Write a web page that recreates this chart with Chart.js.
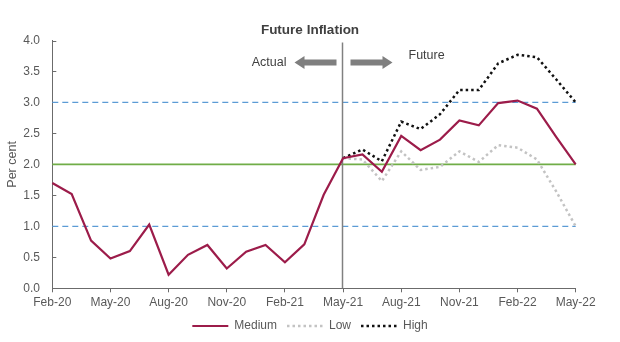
<!DOCTYPE html>
<html>
<head>
<meta charset="utf-8">
<script src="https://cdn.jsdelivr.net/npm/chart.js@4/dist/chart.umd.min.js"></script>
<style>
  html, body { margin: 0; padding: 0; background: #ffffff; }
  #wrap { width: 620px; height: 342px; }
</style>
</head>
<body>
<div id="wrap"><canvas id="chart" width="620" height="342"></canvas></div>
<script>
// Monthly categories, Feb 2020 – May 2022
const months = [
  'Feb-20','Mar-20','Apr-20','May-20','Jun-20','Jul-20','Aug-20','Sep-20','Oct-20','Nov-20','Dec-20','Jan-21',
  'Feb-21','Mar-21','Apr-21','May-21','Jun-21','Jul-21','Aug-21','Sep-21','Oct-21','Nov-21','Dec-21','Jan-22',
  'Feb-22','Mar-22','Apr-22','May-22'
];

// Actual inflation to May-21, then the medium scenario
const medium = [
  1.70, 1.52, 0.77, 0.48, 0.60, 1.03, 0.22, 0.54, 0.70, 0.32, 0.59, 0.70,
  0.42, 0.71, 1.51, 2.10, 2.16, 1.88, 2.46, 2.23, 2.40, 2.71, 2.63, 2.99,
  3.03, 2.90, 2.44, 2.00
];

// Scenario months (from the last actual observation)
const scenarioMonths = [
  'May-21','Jun-21','Jul-21','Aug-21','Sep-21','Oct-21','Nov-21','Dec-21','Jan-22','Feb-22','Mar-22','Apr-22','May-22'
];
const low  = [2.10, 2.08, 1.73, 2.21, 1.91, 1.96, 2.21, 2.04, 2.31, 2.27, 2.08, 1.56, 1.00];
const high = [2.10, 2.24, 2.05, 2.69, 2.57, 2.81, 3.20, 3.20, 3.63, 3.77, 3.73, 3.37, 3.00];

// Target band and midpoint
const bandLower = 1.0;
const bandUpper = 3.0;
const targetMid = 2.0;
const splitMonth = 'May-21';

const FONT = "'Liberation Sans', Arial, sans-serif";
Chart.defaults.font.family = FONT;

const AXIS_GREY = '#6b6b6b';
const TEXT_GREY = '#595959';

const toPoints = (xs, ys) => xs.map((m, i) => ({ x: m, y: ys[i] }));

// Band lines, the actual/future divider, its arrows and inward y tick marks
const annotations = {
  id: 'annotations',
  beforeDatasetsDraw(chart) {
    const { ctx, chartArea, scales } = chart;
    const x = scales.x, y = scales.y;
    ctx.save();

    // y tick marks pointing into the plot
    ctx.strokeStyle = AXIS_GREY;
    ctx.lineWidth = 1;
    y.ticks.forEach(t => {
      const py = Math.round(y.getPixelForValue(t.value)) + 0.5;
      ctx.beginPath();
      ctx.moveTo(chartArea.left, py);
      ctx.lineTo(chartArea.left + 4, py);
      ctx.stroke();
    });

    // band edges (dashed blue)
    ctx.strokeStyle = '#5b9bd5';
    ctx.lineWidth = 1.3;
    ctx.setLineDash([6, 4]);
    [bandLower, bandUpper].forEach(v => {
      const py = y.getPixelForValue(v);
      ctx.beginPath();
      ctx.moveTo(chartArea.left, py);
      ctx.lineTo(chartArea.right, py);
      ctx.stroke();
    });

    // midpoint (solid green)
    ctx.setLineDash([]);
    ctx.strokeStyle = '#70ad47';
    ctx.lineWidth = 1.6;
    const pm = y.getPixelForValue(targetMid);
    ctx.beginPath();
    ctx.moveTo(chartArea.left, pm);
    ctx.lineTo(chartArea.right, pm);
    ctx.stroke();

    // divider between actual and future
    const dx = Math.round(x.getPixelForValue(months.indexOf(splitMonth))) - 0.5;
    ctx.strokeStyle = '#808080';
    ctx.lineWidth = 1.5;
    ctx.beginPath();
    ctx.moveTo(dx, chartArea.top + 2);
    ctx.lineTo(dx, chartArea.bottom);
    ctx.stroke();

    // arrows
    const ay = chartArea.top + 22;
    ctx.fillStyle = '#7f7f7f';
    const arrow = (tail, base, tip) => {
      ctx.beginPath();
      ctx.moveTo(tail, ay - 3);
      ctx.lineTo(base, ay - 3);
      ctx.lineTo(base, ay - 6.5);
      ctx.lineTo(tip, ay);
      ctx.lineTo(base, ay + 6.5);
      ctx.lineTo(base, ay + 3);
      ctx.lineTo(tail, ay + 3);
      ctx.closePath();
      ctx.fill();
    };
    arrow(dx - 6, dx - 38, dx - 48);
    arrow(dx + 8, dx + 40, dx + 50);

    ctx.fillStyle = '#404040';
    ctx.font = '12.5px ' + FONT;
    ctx.textBaseline = 'middle';
    ctx.textAlign = 'right';
    ctx.fillText('Actual', dx - 56, ay);
    ctx.textAlign = 'left';
    ctx.fillText('Future', dx + 66, chartArea.top + 15);

    ctx.restore();
  }
};

new Chart(document.getElementById('chart'), {
  type: 'line',
  data: {
    labels: months,
    datasets: [
      {
        label: 'Medium',
        data: medium,
        borderColor: '#9c1c4a',
        backgroundColor: '#9c1c4a',
        borderWidth: 2.2,
        pointRadius: 0,
        tension: 0
      },
      {
        label: 'Low',
        data: toPoints(scenarioMonths, low),
        borderColor: '#c3c3c3',
        backgroundColor: '#c3c3c3',
        borderWidth: 2.5,
        borderDash: [2.5, 3],
        pointRadius: 0,
        tension: 0
      },
      {
        label: 'High',
        data: toPoints(scenarioMonths, high),
        borderColor: '#111111',
        backgroundColor: '#111111',
        borderWidth: 2.5,
        borderDash: [2.5, 3],
        pointRadius: 0,
        tension: 0
      }
    ]
  },
  options: {
    responsive: false,
    animation: false,
    devicePixelRatio: 1,
    layout: { padding: { left: 0, right: 0, top: 0, bottom: 0 } },
    plugins: {
      title: {
        display: true,
        text: 'Future Inflation',
        color: '#404040',
        font: { size: 13.5, weight: 'bold' },
        padding: { top: 21.9, bottom: 2.4 }
      },
      legend: {
        position: 'bottom',
        labels: {
          usePointStyle: true,
          pointStyle: 'line',
          pointStyleWidth: 36,
          color: TEXT_GREY,
          font: { size: 12 },
          padding: 10,
          generateLabels(chart) {
            const items = Chart.defaults.plugins.legend.labels.generateLabels(chart);
            return items.map(it => {
              const ds = chart.data.datasets[it.datasetIndex];
              it.lineDash = ds.borderDash || [];
              it.lineWidth = ds.borderWidth;
              it.strokeStyle = ds.borderColor;
              it.fillStyle = ds.borderColor;
              return it;
            });
          }
        }
      },
      tooltip: { enabled: false }
    },
    scales: {
      x: {
        type: 'category',
        offset: false,
        grid: {
          drawOnChartArea: false,
          drawTicks: true,
          tickLength: 4,
          tickColor: c => (c.index % 3 === 0 ? AXIS_GREY : 'rgba(0,0,0,0)')
        },
        border: { color: AXIS_GREY, width: 1 },
        ticks: {
          autoSkip: false,
          maxRotation: 0,
          padding: 3,
          color: TEXT_GREY,
          font: { size: 12 },
          callback: (v, i) => (i % 3 === 0 ? months[i] : '')
        },
        afterFit(s) { s.height = 21.7; }
      },
      y: {
        min: 0,
        max: 4,
        grid: {
          drawOnChartArea: false,
          drawTicks: false
        },
        border: { color: AXIS_GREY, width: 1 },
        ticks: {
          stepSize: 0.5,
          padding: 12.3,
          color: TEXT_GREY,
          font: { size: 12 },
          callback: v => Number(v).toFixed(1)
        },
        title: {
          display: true,
          text: 'Per cent',
          color: TEXT_GREY,
          font: { size: 12.5 },
          padding: { top: 5.5, bottom: 0 }
        },
        afterFit(s) { s.width = 52.3; }
      },
      rightMargin: {
        position: 'right',
        display: true,
        grid: { display: false, drawTicks: false },
        border: { display: false },
        ticks: { display: false },
        afterFit(s) { s.width = 44.3; }
      }
    }
  },
  plugins: [annotations]
});
</script>
</body>
</html>
